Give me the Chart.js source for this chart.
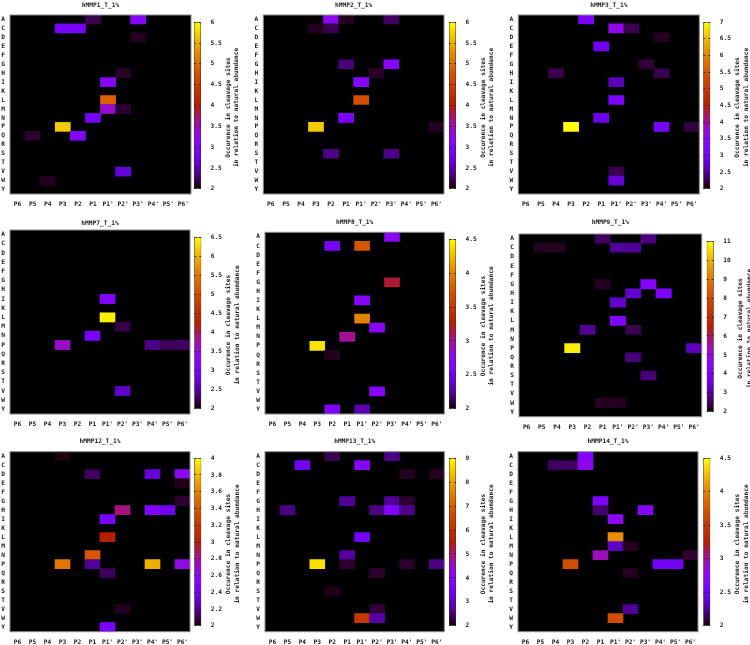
<!DOCTYPE html>
<html><head><meta charset="utf-8">
<script src="https://cdn.jsdelivr.net/npm/chart.js@4.4.1/dist/chart.umd.min.js"></script>
<style>
html,body{margin:0;padding:0;background:#fff;}
#wrap{position:relative;width:750px;height:645px;overflow:hidden;background:#fff;}
canvas{position:absolute;}
</style></head><body><div id="wrap"></div>
<script>
// ---------- data ----------
const positions = ['P6','P5','P4','P3','P2','P1',"P1'","P2'","P3'","P4'","P5'","P6'"];
const residues = ['A','C','D','E','F','G','H','I','K','L','M','N','P','Q','R','S','T','V','W','Y'];
const cbTitleLines = ['Occurence in cleavage sites','in relation to natural abundance'];
const panelTitles = ['hMMP1_T_1%','hMMP2_T_1%','hMMP3_T_1%','hMMP7_T_1%','hMMP8_T_1%','hMMP9_T_1%','hMMP12_T_1%','hMMP13_T_1%','hMMP14_T_1%'];

const mmp1Cells = [['A','P1',2.2],['A',"P3'",3.1],['C','P3',2.9],['C','P2',2.9],['D',"P3'",2.08],['H',"P2'",2.1],
  ['I',"P1'",3.1],['L',"P1'",4.9],['M',"P1'",3.4],['M',"P2'",2.12],['N','P1',2.85],['P','P3',5.7],
  ['Q','P5',2.12],['Q','P2',3.05],['V',"P2'",2.64],['W','P4',2.08]];
const mmp2Cells = [['A','P2',3.2],['A','P1',2.08],['A',"P3'",2.25],['C','P3',2.08],['C','P2',2.2],['G','P1',2.32],
  ['G',"P3'",3.1],['H',"P2'",2.1],['I',"P1'",3.05],['L',"P1'",4.72],['N','P1',2.95],['P','P3',5.7],
  ['P',"P6'",2.08],['S','P2',2.35],['S',"P3'",2.35]];
const mmp3Cells = [['A','P2',3.1],['C',"P1'",3.6],['C',"P2'",2.25],['D',"P4'",2.1],['E','P1',3.0],['G',"P3'",2.18],
  ['H','P4',2.25],['H',"P4'",2.25],['I',"P1'",2.65],['L',"P1'",3.2],['N','P1',2.95],['P','P3',7.0],
  ['P',"P4'",3.1],['P',"P6'",2.2],['V',"P1'",2.25],['W',"P1'",2.8]];
const mmp7Cells = [['I',"P1'",3.2],['L',"P1'",6.4],['M',"P2'",2.2],['N','P1',3.0],['P','P3',3.6],
  ['P',"P4'",2.4],['P',"P5'",2.25],['P',"P6'",2.28],['V',"P2'",2.63]];
const mmp8Cells = [['A',"P3'",2.75],['C','P2',2.55],['C',"P1'",3.75],['G',"P3'",3.17],['I',"P1'",2.7],['L',"P1'",4.0],
  ['M',"P2'",2.7],['N','P1',3.0],['P','P3',4.4],['Q','P2',2.05],['V',"P2'",2.7],['Y','P2',2.6],['Y',"P1'",2.3]];
const mmp9Cells = [['A','P1',2.55],['A',"P3'",2.75],['C','P5',2.2],['C','P4',2.2],['C',"P1'",2.9],['C',"P2'",2.9],
  ['G','P1',2.2],['G',"P3'",4.4],['H',"P2'",3.35],['H',"P4'",4.2],['I',"P1'",3.35],['L',"P1'",4.4],
  ['M','P2',2.9],['M',"P2'",2.45],['P','P3',10.8],['P',"P6'",3.2],['Q',"P2'",2.7],['S',"P3'",2.7],
  ['W','P1',2.2],['W',"P1'",2.2]];
const mmp12Cells = [['A','P3',2.02],['D','P1',2.12],['D',"P4'",2.32],['D',"P6'",2.6],['E',"P6'",2.03],['G',"P6'",2.06],
  ['H',"P2'",2.84],['H',"P4'",2.5],['H',"P5'",2.38],['I',"P1'",2.45],['L',"P1'",3.0],['N','P1',3.4],
  ['P','P3',3.55],['P','P1',2.2],['P',"P4'",3.76],['P',"P6'",2.65],['Q',"P1'",2.12],['V',"P2'",2.04],
  ['Y',"P1'",2.47]];
const mmp13Cells = [['A','P2',2.35],['A',"P3'",2.6],['C','P4',3.4],['C',"P1'",3.9],['D',"P4'",2.15],['D',"P6'",2.15],
  ['G','P1',2.7],['G',"P3'",2.7],['G',"P4'",2.2],['H','P5',2.6],['H',"P2'",2.6],['H',"P3'",3.8],['H',"P4'",2.65],
  ['L',"P1'",3.5],['N','P1',2.75],['P','P3',8.7],['P','P1',2.2],['P',"P4'",2.2],['P',"P6'",2.6],
  ['Q',"P2'",2.2],['S','P2',2.1],['V',"P2'",2.25],['W',"P1'",6.2],['W',"P2'",2.8]];
const mmp14Cells = [['A','P2',2.62],['C','P4',2.15],['C','P3',2.15],['C','P2',2.8],['G','P1',2.62],['H','P1',2.17],
  ['H',"P3'",2.7],['I',"P1'",2.75],['L',"P1'",4.05],['M',"P1'",2.35],['M',"P2'",2.05],['N','P1',2.93],
  ['N',"P6'",2.08],['P','P3',3.68],['P',"P4'",2.5],['P',"P5'",2.5],['Q',"P2'",2.05],['V',"P2'",2.25],
  ['W',"P1'",3.68]];

const mmp1Ticks = [2,2.5,3,3.5,4,4.5,5,5.5,6];
const mmp2Ticks = [2,2.5,3,3.5,4,4.5,5,5.5,6];
const mmp3Ticks = [2,2.5,3,3.5,4,4.5,5,5.5,6,6.5,7];
const mmp7Ticks = [2,2.5,3,3.5,4,4.5,5,5.5,6,6.5];
const mmp8Ticks = [2,2.5,3,3.5,4,4.5];
const mmp9Ticks = [2,3,4,5,6,7,8,9,10,11];
const mmp12Ticks = [2,2.2,2.4,2.6,2.8,3,3.2,3.4,3.6,3.8,4];
const mmp13Ticks = [2,3,4,5,6,7,8,9];
const mmp14Ticks = [2,2.5,3,3.5,4,4.5];

const panelCells = [mmp1Cells,mmp2Cells,mmp3Cells,mmp7Cells,mmp8Cells,mmp9Cells,mmp12Cells,mmp13Cells,mmp14Cells];
const panelTicks = [mmp1Ticks,mmp2Ticks,mmp3Ticks,mmp7Ticks,mmp8Ticks,mmp9Ticks,mmp12Ticks,mmp13Ticks,mmp14Ticks];

// ---------- layout (pixels, local to each 250x215 panel) ----------
const panelLayout = [
 {ox:0,  oy:0,   L:10,   R:191,   T:15,   B:194,   tY:5,    cbL:194},
 {ox:250,oy:0,   L:13.3, R:194,   T:15,   B:194,   tY:5,    cbL:199},
 {ox:500,oy:0,   L:18.3, R:199.3, T:15,   B:194,   tY:5,    cbL:203.3},
 {ox:0,  oy:215, L:10,   R:190,   T:15,   B:199,   tY:8,    cbL:194.3},
 {ox:250,oy:215, L:15,   R:194.3, T:17.3, B:199,   tY:7,    cbL:199},
 {ox:500,oy:215, L:19,   R:201.7, T:19,   B:201.7, tY:7,    cbL:206.7},
 {ox:0,  oy:430, L:10,   R:190,   T:21.7, B:201.7, tY:11,   cbL:194.3},
 {ox:250,oy:430, L:15,   R:194.3, T:21.7, B:201.7, tY:11.5, cbL:199},
 {ox:500,oy:430, L:18,   R:198,   T:21.7, B:201.7, tY:11,   cbL:203.3},
];
const CB_W = 7;
const FONT_FAMILY = "'DejaVu Sans Mono', monospace";
const FONT_SIZE = 6.2;
const TEXT_COLOR = '#1a1a1a';
const font = {family: FONT_FAMILY, size: FONT_SIZE, weight: 'bold', lineHeight: 1.2};

Chart.defaults.animation = false;
Chart.defaults.events = [];
Chart.defaults.plugins.legend.display = false;
Chart.defaults.plugins.tooltip.enabled = false;

function palette(t){
  t = Math.max(0, Math.min(1, t));
  const r = Math.sqrt(t), g = t*t*t, b = Math.max(0, Math.sin(2*Math.PI*t));
  return 'rgb(' + Math.round(r*255) + ',' + Math.round(g*255) + ',' + Math.round(b*255) + ')';
}

const wrap = document.getElementById('wrap');
function makeCanvas(left, top, w, h){
  const c = document.createElement('canvas');
  c.width = w; c.height = h;
  c.style.left = left + 'px'; c.style.top = top + 'px';
  c.style.width = w + 'px'; c.style.height = h + 'px';
  wrap.appendChild(c);
  return c;
}

const heatPlugin = {
  id: 'heatPlugin',
  beforeDatasetsDraw(chart){
    const a = chart.chartArea, c = chart.ctx;
    c.save(); c.fillStyle = '#000'; c.fillRect(a.left, a.top, a.right - a.left, a.bottom - a.top); c.restore();
  },
  afterDatasetsDraw(chart){
    const a = chart.chartArea, c = chart.ctx;
    c.save(); c.strokeStyle = '#8a8a8a'; c.lineWidth = 1;
    c.strokeRect(a.left, a.top, a.right - a.left, a.bottom - a.top); c.restore();
  }
};

const cbTitlePlugin = {
  id: 'cbTitle',
  afterDraw(chart){
    const a = chart.chartArea, c = chart.ctx;
    c.save();
    c.font = 'bold ' + FONT_SIZE + 'px ' + FONT_FAMILY;
    c.fillStyle = TEXT_COLOR; c.textAlign = 'center'; c.textBaseline = 'middle';
    const cy = (a.top + a.bottom) / 2 + 2;
    const offs = [34, 42.8];
    cbTitleLines.forEach((t, i) => {
      c.save(); c.translate(a.left + offs[i], cy); c.rotate(-Math.PI/2); c.fillText(t, 0, 0); c.restore();
    });
    c.restore();
  }
};

function fmt(v){ return String(Math.round(v*100)/100); }

panelLayout.forEach((g, p) => {
  const cells = panelCells[p];
  const ticks = panelTicks[p];
  const vmin = ticks[0], vmax = ticks[ticks.length - 1];

  // ----- heatmap -----
  const cw = Math.ceil(g.R + 10), ch = Math.ceil(g.B + 18);
  const hc = makeCanvas(g.ox, g.oy, cw, ch);
  const lh = FONT_SIZE * 1.2;
  new Chart(hc, {
    type: 'bar',
    data: {
      labels: positions,
      datasets: [{
        data: cells.map(c => ({x: c[1], y: [residues.indexOf(c[0]), residues.indexOf(c[0]) + 1]})),
        backgroundColor: cells.map(c => palette((c[2] - vmin) / (vmax - vmin))),
        borderWidth: 0,
        barPercentage: 1,
        categoryPercentage: 1
      }]
    },
    options: {
      responsive: false,
      devicePixelRatio: 1,
      layout: {padding: {left: 0, top: 0, bottom: 0, right: cw - g.R}},
      plugins: {
        title: {
          display: true, text: panelTitles[p], color: TEXT_COLOR, font: font, fullSize: false,
          padding: {top: g.tY - lh/2, bottom: g.T - g.tY - lh/2}
        }
      },
      scales: {
        x: {
          type: 'category', offset: true,
          grid: {display: false, drawTicks: false}, border: {display: false},
          ticks: {font: font, color: TEXT_COLOR, padding: 7, maxRotation: 0, autoSkip: false},
          afterFit: s => { s.height = ch - g.B; }
        },
        y: {
          type: 'linear', min: 0, max: residues.length, reverse: true,
          grid: {display: false, drawTicks: false}, border: {display: false},
          afterBuildTicks: s => { s.ticks = residues.map((r, i) => ({value: i + 0.5})); },
          ticks: {font: font, color: TEXT_COLOR, padding: 5, autoSkip: false,
                  callback: v => residues[Math.floor(v)]},
          afterFit: s => { s.width = g.L; }
        }
      }
    },
    plugins: [heatPlugin]
  });

  // ----- colour bar -----
  const cbX = g.ox + g.cbL, cbTop = g.oy + g.T, cbH = g.B - g.T;
  const left = Math.floor(cbX) - 2, top = Math.floor(cbTop) - 6;
  const w = Math.min(750 - left, 58), h = Math.ceil(cbH) + 14;
  const padL = cbX - left, padT = cbTop - top, padB = h - cbH - padT;
  const cc = makeCanvas(left, top, w, h);
  new Chart(cc, {
    type: 'bar',
    data: {
      labels: [''],
      datasets: [{
        data: [[vmin, vmax]],
        backgroundColor: ctx => {
          const a = ctx.chart.chartArea;
          if (!a) return '#000';
          const gr = ctx.chart.ctx.createLinearGradient(0, a.bottom, 0, a.top);
          for (let i = 0; i <= 64; i++) gr.addColorStop(i/64, palette(i/64));
          return gr;
        },
        borderColor: '#333', borderWidth: 0.8, borderSkipped: false,
        barPercentage: 1, categoryPercentage: 1
      }]
    },
    options: {
      responsive: false,
      devicePixelRatio: 1,
      layout: {padding: {left: padL, top: padT, bottom: padB, right: 0}},
      scales: {
        x: {display: false, offset: true},
        y: {
          type: 'linear', position: 'right', min: vmin, max: vmax,
          grid: {display: true, drawOnChartArea: true, drawTicks: false, color: '#222', lineWidth: 0.8, z: 1},
          border: {display: false, dash: [2, 3]},
          afterBuildTicks: s => { s.ticks = ticks.map(v => ({value: v})); },
          ticks: {font: font, color: TEXT_COLOR, padding: 9.5, autoSkip: false, callback: v => fmt(v)},
          afterFit: s => { s.width = w - padL - CB_W; }
        }
      }
    },
    plugins: [cbTitlePlugin]
  });
});
</script>
</body></html>
